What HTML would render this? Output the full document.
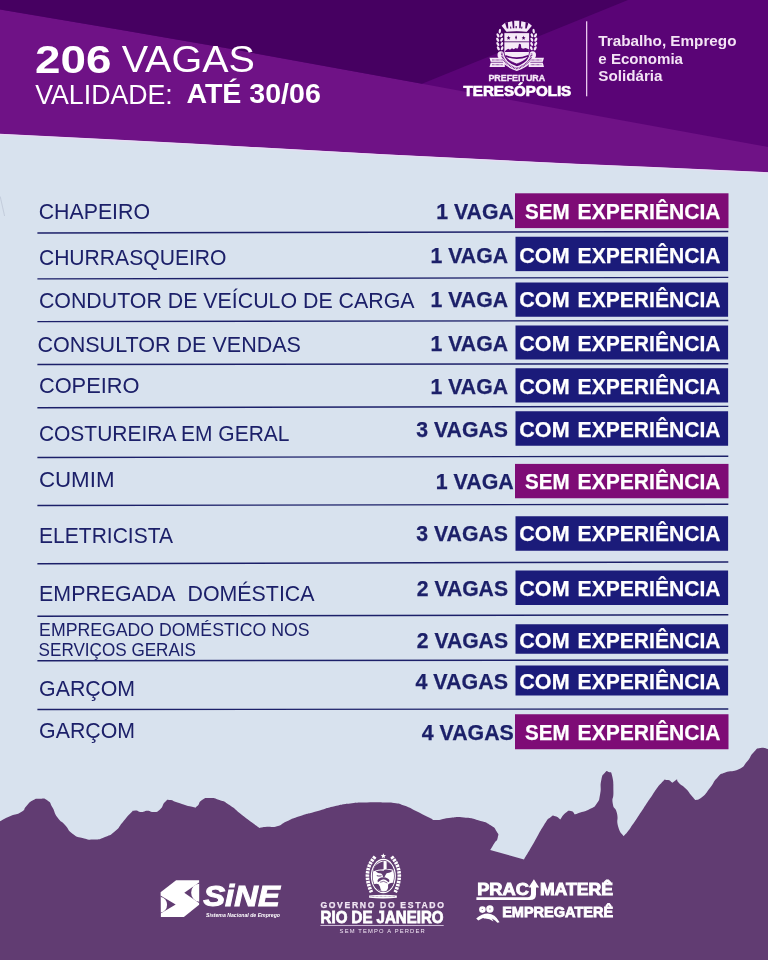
<!DOCTYPE html>
<html><head><meta charset="utf-8"><title>Vagas</title>
<style>
html,body{margin:0;padding:0;background:#d8e2ee;}
body{width:768px;height:960px;overflow:hidden;font-family:"Liberation Sans",sans-serif;}
svg{display:block;will-change:transform;font-family:"Liberation Sans",sans-serif;}
</style></head><body>
<svg width="768" height="960" viewBox="0 0 768 960">
<rect width="768" height="960" fill="#d8e2ee"/>
<!-- header -->
<polygon points="0,0 768,0 768,172.2 648,166.8 576,163.8 384,154.2 192,143.6 120,139.8 0,133.8" fill="#6f1286"/>
<polygon points="0,0 768,0 768,146.9 576,112 422,83.75 230,48.75 120,29.7 0,9.4" fill="#5a0476"/>
<polygon points="0,0 628,0 422,83.75 230,48.75 120,29.7 0,9.4" fill="#460061"/>
<polyline id="fringe" points="0,134.5 120,140.5 192,144.3 384,154.9 576,164.5 648,167.5 768,172.9" fill="none" stroke="#ecd9f6" stroke-width="1"/>
<text x="35.1" y="72.6" font-size="39" font-weight="bold" fill="#fff" textLength="76.4" lengthAdjust="spacingAndGlyphs">206</text>
<text x="121.7" y="72.4" font-size="37.6" fill="#fff" textLength="133.2" lengthAdjust="spacingAndGlyphs">VAGAS</text>
<text x="35.2" y="103.5" font-size="27.4" fill="#fff" textLength="137.6" lengthAdjust="spacingAndGlyphs">VALIDADE:</text>
<text x="186.4" y="103.3" font-size="27.4" font-weight="bold" fill="#fff" textLength="134.4" lengthAdjust="spacingAndGlyphs">ATÉ 30/06</text>
<rect x="586" y="21.3" width="1.3" height="75" fill="#e9c8ee"/>
<text x="598.3" y="46.25" font-size="14" font-weight="bold" fill="#f3e3f5" textLength="138.2" lengthAdjust="spacingAndGlyphs">Trabalho, Emprego</text>
<text x="598.3" y="63.6" font-size="14" font-weight="bold" fill="#f3e3f5" textLength="84.7" lengthAdjust="spacingAndGlyphs">e Economia</text>
<text x="598.3" y="81" font-size="14" font-weight="bold" fill="#f3e3f5" textLength="64.2" lengthAdjust="spacingAndGlyphs">Solidária</text>
<text x="488.4" y="80.8" font-size="8.4" font-weight="bold" fill="#f6e9f8" textLength="56.8" lengthAdjust="spacingAndGlyphs" stroke="#f6e9f8" stroke-width="0.3">PREFEITURA</text>
<text x="463.6" y="96.4" font-size="14.8" font-weight="bold" fill="#fff" textLength="107.6" lengthAdjust="spacingAndGlyphs" stroke="#fff" stroke-width="0.7">TERESÓPOLIS</text>

<path id="faintmark" d="M0.2,196.5 L4.6,216" stroke="#aeb6c8" stroke-width="0.9" opacity="0.55" fill="none"/>
<!-- Teresopolis crest -->
<defs>
<mask id="crestm" maskUnits="userSpaceOnUse" x="0" y="0" width="768" height="672">
 <g fill="#fff" stroke="none">
  <!-- crown -->
  <path d="M272,192 L211,116 L250,84 L288,76 L336,64 L362,56 L424,56 L450,64 L500,76 L536,84 L575,116 L512,192 Q392,172 272,192 Z"/>
  <!-- wreath left -->
  <g>
   <ellipse cx="190" cy="182" rx="14" ry="28" transform="rotate(8 190 182)"/>
   <ellipse cx="168" cy="232" rx="15" ry="27" transform="rotate(-28 168 232)"/>
   <ellipse cx="210" cy="232" rx="14" ry="25" transform="rotate(28 210 232)"/>
   <ellipse cx="164" cy="284" rx="15" ry="27" transform="rotate(-28 164 284)"/>
   <ellipse cx="212" cy="284" rx="14" ry="25" transform="rotate(28 212 284)"/>
   <ellipse cx="166" cy="336" rx="15" ry="27" transform="rotate(-28 166 336)"/>
   <ellipse cx="214" cy="336" rx="14" ry="25" transform="rotate(28 214 336)"/>
   <ellipse cx="172" cy="388" rx="15" ry="27" transform="rotate(-28 172 388)"/>
   <ellipse cx="218" cy="388" rx="14" ry="25" transform="rotate(28 218 388)"/>
   <ellipse cx="202" cy="468" rx="40" ry="44"/>
  </g>
  <g transform="translate(786,0) scale(-1,1)">
   <ellipse cx="190" cy="182" rx="14" ry="28" transform="rotate(8 190 182)"/>
   <ellipse cx="168" cy="232" rx="15" ry="27" transform="rotate(-28 168 232)"/>
   <ellipse cx="210" cy="232" rx="14" ry="25" transform="rotate(28 210 232)"/>
   <ellipse cx="164" cy="284" rx="15" ry="27" transform="rotate(-28 164 284)"/>
   <ellipse cx="212" cy="284" rx="14" ry="25" transform="rotate(28 212 284)"/>
   <ellipse cx="166" cy="336" rx="15" ry="27" transform="rotate(-28 166 336)"/>
   <ellipse cx="214" cy="336" rx="14" ry="25" transform="rotate(28 214 336)"/>
   <ellipse cx="172" cy="388" rx="15" ry="27" transform="rotate(-28 172 388)"/>
   <ellipse cx="218" cy="388" rx="14" ry="25" transform="rotate(28 218 388)"/>
   <ellipse cx="202" cy="468" rx="40" ry="44"/>
  </g>
  <!-- ribbon -->
  <path d="M66,500 H250 V612 H66 L82,556 Z"/>
  <path d="M720,500 H536 V612 H720 L704,556 Z"/>
 </g>
 <path d="M214,440 C214,540 300,600 393,632 C486,600 572,540 572,440" fill="none" stroke="#fff" stroke-width="52"/>
 <path d="M214,440 C214,540 300,600 393,632 C486,600 572,540 572,440" fill="none" stroke="#000" stroke-width="22" stroke-dasharray="9 9"/>
 <!-- shield -->
 <path d="M240,200 H546 V430 C546,500 480,545 393,576 C306,545 240,500 240,430 Z" fill="#fff" stroke="#000" stroke-width="9"/>
 <g fill="#000" stroke="none">
  <!-- crown slits -->
  <path d="M252,80 L286,72 L292,150 L274,150 Z M338,60 L362,52 L364,148 L346,148 Z M424,52 L448,60 L440,148 L422,148 Z M500,72 L534,80 L512,150 L494,150 Z"/>
  <path d="M312,128 l12,-3 l5,26 l-12,3z M379,120 h14 v28 h-14z M450,125 l12,3 l-5,26 l-12,-3z"/>
  <!-- shield details -->
  <rect x="240" y="305" width="306" height="10"/>
  <path d="M295,238 l7,16 17,2 -13,12 3,17 -14,-9 -14,9 3,-17 -13,-12 17,-2z"/>
  <path d="M385,230 l11,28 -11,28 -11,-28z"/>
  <path d="M475,238 l7,16 17,2 -13,12 3,17 -14,-9 -14,9 3,-17 -13,-12 17,-2z"/>
  <path d="M248,432 L262,410 L290,394 L312,404 L336,388 L356,398 L380,384 L400,392 L412,374 L420,334 L442,338 L448,384 L470,394 L500,384 L538,400 L538,432 Z"/>
  <path d="M258,468 Q393,522 528,468 L528,488 Q393,544 258,488 Z"/>
 </g>
 <g stroke="#000" fill="none">
  <path d="M70,556 H230 M556,556 H716" stroke-width="8"/>
  <path d="M98,528 H224 M98,585 H224 M562,528 H688 M562,585 H688" stroke-width="12" stroke-dasharray="8 7"/>
  <path d="M240,195 H546" stroke-width="7"/>
 </g>
</mask>
</defs>
<g transform="translate(484,16) scale(0.083333)">
<rect x="0" y="0" width="768" height="672" fill="#f6e9f8" mask="url(#crestm)"/>
</g>


<line x1="37.4" y1="233.0" x2="728.3" y2="231.5" stroke="#1c2069" stroke-width="1.4"/>
<line x1="37.4" y1="278.9" x2="728.3" y2="277.4" stroke="#1c2069" stroke-width="1.4"/>
<line x1="37.4" y1="321.6" x2="728.3" y2="320.5" stroke="#1c2069" stroke-width="1.4"/>
<line x1="37.4" y1="364.5" x2="728.3" y2="363.7" stroke="#1c2069" stroke-width="1.4"/>
<line x1="37.4" y1="407.7" x2="728.3" y2="406.4" stroke="#1c2069" stroke-width="1.4"/>
<line x1="37.4" y1="457.5" x2="728.3" y2="456.25" stroke="#1c2069" stroke-width="1.4"/>
<line x1="37.4" y1="505.5" x2="728.3" y2="504.25" stroke="#1c2069" stroke-width="1.4"/>
<line x1="37.4" y1="563.75" x2="728.3" y2="562" stroke="#1c2069" stroke-width="1.4"/>
<line x1="37.4" y1="616.25" x2="728.3" y2="614.7" stroke="#1c2069" stroke-width="1.4"/>
<line x1="37.4" y1="660.75" x2="728.3" y2="660" stroke="#1c2069" stroke-width="1.4"/>
<line x1="37.4" y1="709.5" x2="728.3" y2="709" stroke="#1c2069" stroke-width="1.4"/>
<text x="38.7" y="219.3" font-size="22.2" font-weight="normal" fill="#1c2069" textLength="111.3" lengthAdjust="spacingAndGlyphs">CHAPEIRO</text>
<text x="436.25" y="218.6" font-size="22.2" font-weight="bold" fill="#1c2069" textLength="77.5" lengthAdjust="spacingAndGlyphs" stroke="#1c2069" stroke-width="0.25">1 VAGA</text>
<rect x="515" y="193.3" width="213.5" height="34.80" fill="#7e0c76"/>
<text x="525" y="218.6" font-size="22.2" font-weight="bold" fill="#fff" textLength="44.6" lengthAdjust="spacingAndGlyphs" stroke="#fff" stroke-width="0.25">SEM</text>
<text x="577.6" y="218.6" font-size="22.2" font-weight="bold" fill="#fff" textLength="143.0" lengthAdjust="spacingAndGlyphs" stroke="#fff" stroke-width="0.25">EXPERIÊNCIA</text>
<text x="38.9" y="265.4" font-size="22.2" font-weight="normal" fill="#1c2069" textLength="187.6" lengthAdjust="spacingAndGlyphs">CHURRASQUEIRO</text>
<text x="430.5" y="262.5" font-size="22.2" font-weight="bold" fill="#1c2069" textLength="77.5" lengthAdjust="spacingAndGlyphs" stroke="#1c2069" stroke-width="0.25">1 VAGA</text>
<rect x="515.5" y="236.75" width="212.6" height="34.40" fill="#1b1b7a"/>
<text x="519.3" y="262.5" font-size="22.2" font-weight="bold" fill="#fff" textLength="50.3" lengthAdjust="spacingAndGlyphs" stroke="#fff" stroke-width="0.25">COM</text>
<text x="577.6" y="262.5" font-size="22.2" font-weight="bold" fill="#fff" textLength="143.0" lengthAdjust="spacingAndGlyphs" stroke="#fff" stroke-width="0.25">EXPERIÊNCIA</text>
<text x="38.9" y="308.25" font-size="22.2" font-weight="normal" fill="#1c2069" textLength="375.6" lengthAdjust="spacingAndGlyphs">CONDUTOR DE VEÍCULO DE CARGA</text>
<text x="430.5" y="306.75" font-size="22.2" font-weight="bold" fill="#1c2069" textLength="77.5" lengthAdjust="spacingAndGlyphs" stroke="#1c2069" stroke-width="0.25">1 VAGA</text>
<rect x="515.5" y="282.5" width="212.6" height="34.25" fill="#1b1b7a"/>
<text x="519.3" y="306.75" font-size="22.2" font-weight="bold" fill="#fff" textLength="50.3" lengthAdjust="spacingAndGlyphs" stroke="#fff" stroke-width="0.25">COM</text>
<text x="577.6" y="306.75" font-size="22.2" font-weight="bold" fill="#fff" textLength="143.0" lengthAdjust="spacingAndGlyphs" stroke="#fff" stroke-width="0.25">EXPERIÊNCIA</text>
<text x="37.4" y="352" font-size="22.2" font-weight="normal" fill="#1c2069" textLength="263.6" lengthAdjust="spacingAndGlyphs">CONSULTOR DE VENDAS</text>
<text x="430.5" y="350.75" font-size="22.2" font-weight="bold" fill="#1c2069" textLength="77.5" lengthAdjust="spacingAndGlyphs" stroke="#1c2069" stroke-width="0.25">1 VAGA</text>
<rect x="515.5" y="325.5" width="212.6" height="34.00" fill="#1b1b7a"/>
<text x="519.3" y="350.75" font-size="22.2" font-weight="bold" fill="#fff" textLength="50.3" lengthAdjust="spacingAndGlyphs" stroke="#fff" stroke-width="0.25">COM</text>
<text x="577.6" y="350.75" font-size="22.2" font-weight="bold" fill="#fff" textLength="143.0" lengthAdjust="spacingAndGlyphs" stroke="#fff" stroke-width="0.25">EXPERIÊNCIA</text>
<text x="38.9" y="393" font-size="22.2" font-weight="normal" fill="#1c2069" textLength="100.6" lengthAdjust="spacingAndGlyphs">COPEIRO</text>
<text x="430.5" y="394.25" font-size="22.2" font-weight="bold" fill="#1c2069" textLength="77.5" lengthAdjust="spacingAndGlyphs" stroke="#1c2069" stroke-width="0.25">1 VAGA</text>
<rect x="515.5" y="368.25" width="212.6" height="34.25" fill="#1b1b7a"/>
<text x="519.3" y="394.25" font-size="22.2" font-weight="bold" fill="#fff" textLength="50.3" lengthAdjust="spacingAndGlyphs" stroke="#fff" stroke-width="0.25">COM</text>
<text x="577.6" y="394.25" font-size="22.2" font-weight="bold" fill="#fff" textLength="143.0" lengthAdjust="spacingAndGlyphs" stroke="#fff" stroke-width="0.25">EXPERIÊNCIA</text>
<text x="38.9" y="440.5" font-size="22.2" font-weight="normal" fill="#1c2069" textLength="250.6" lengthAdjust="spacingAndGlyphs">COSTUREIRA EM GERAL</text>
<text x="416.25" y="437" font-size="22.2" font-weight="bold" fill="#1c2069" textLength="91.75" lengthAdjust="spacingAndGlyphs" stroke="#1c2069" stroke-width="0.25">3 VAGAS</text>
<rect x="515.5" y="411.25" width="212.6" height="34.50" fill="#1b1b7a"/>
<text x="519.3" y="437" font-size="22.2" font-weight="bold" fill="#fff" textLength="50.3" lengthAdjust="spacingAndGlyphs" stroke="#fff" stroke-width="0.25">COM</text>
<text x="577.6" y="437" font-size="22.2" font-weight="bold" fill="#fff" textLength="143.0" lengthAdjust="spacingAndGlyphs" stroke="#fff" stroke-width="0.25">EXPERIÊNCIA</text>
<text x="38.9" y="486.75" font-size="22.2" font-weight="normal" fill="#1c2069" textLength="75.6" lengthAdjust="spacingAndGlyphs">CUMIM</text>
<text x="435.75" y="488.75" font-size="22.2" font-weight="bold" fill="#1c2069" textLength="78.0" lengthAdjust="spacingAndGlyphs" stroke="#1c2069" stroke-width="0.25">1 VAGA</text>
<rect x="515" y="463.9" width="213.5" height="34.35" fill="#7e0c76"/>
<text x="525" y="488.75" font-size="22.2" font-weight="bold" fill="#fff" textLength="44.6" lengthAdjust="spacingAndGlyphs" stroke="#fff" stroke-width="0.25">SEM</text>
<text x="577.6" y="488.75" font-size="22.2" font-weight="bold" fill="#fff" textLength="143.0" lengthAdjust="spacingAndGlyphs" stroke="#fff" stroke-width="0.25">EXPERIÊNCIA</text>
<text x="39.1" y="542.5" font-size="22.2" font-weight="normal" fill="#1c2069" textLength="133.9" lengthAdjust="spacingAndGlyphs">ELETRICISTA</text>
<text x="416.25" y="541.25" font-size="22.2" font-weight="bold" fill="#1c2069" textLength="91.75" lengthAdjust="spacingAndGlyphs" stroke="#1c2069" stroke-width="0.25">3 VAGAS</text>
<rect x="515.5" y="516.25" width="212.6" height="34.50" fill="#1b1b7a"/>
<text x="519.3" y="541.25" font-size="22.2" font-weight="bold" fill="#fff" textLength="50.3" lengthAdjust="spacingAndGlyphs" stroke="#fff" stroke-width="0.25">COM</text>
<text x="577.6" y="541.25" font-size="22.2" font-weight="bold" fill="#fff" textLength="143.0" lengthAdjust="spacingAndGlyphs" stroke="#fff" stroke-width="0.25">EXPERIÊNCIA</text>
<text x="39.1" y="600.5" font-size="22.2" font-weight="normal" fill="#1c2069" textLength="275.4" lengthAdjust="spacingAndGlyphs">EMPREGADA&#160;&#160;DOMÉSTICA</text>
<text x="416.75" y="595.75" font-size="22.2" font-weight="bold" fill="#1c2069" textLength="91.25" lengthAdjust="spacingAndGlyphs" stroke="#1c2069" stroke-width="0.25">2 VAGAS</text>
<rect x="515.5" y="570.5" width="212.6" height="34.50" fill="#1b1b7a"/>
<text x="519.3" y="595.75" font-size="22.2" font-weight="bold" fill="#fff" textLength="50.3" lengthAdjust="spacingAndGlyphs" stroke="#fff" stroke-width="0.25">COM</text>
<text x="577.6" y="595.75" font-size="22.2" font-weight="bold" fill="#fff" textLength="143.0" lengthAdjust="spacingAndGlyphs" stroke="#fff" stroke-width="0.25">EXPERIÊNCIA</text>
<text x="39.1" y="636.25" font-size="18.2" font-weight="normal" fill="#1c2069" textLength="270.4" lengthAdjust="spacingAndGlyphs">EMPREGADO DOMÉSTICO NOS</text>
<text x="38.6" y="656.25" font-size="18.2" font-weight="normal" fill="#1c2069" textLength="157.4" lengthAdjust="spacingAndGlyphs">SERVIÇOS GERAIS</text>
<text x="416.75" y="647.5" font-size="22.2" font-weight="bold" fill="#1c2069" textLength="91.25" lengthAdjust="spacingAndGlyphs" stroke="#1c2069" stroke-width="0.25">2 VAGAS</text>
<rect x="515.5" y="624.25" width="212.6" height="29.50" fill="#1b1b7a"/>
<text x="519.3" y="647.5" font-size="22.2" font-weight="bold" fill="#fff" textLength="50.3" lengthAdjust="spacingAndGlyphs" stroke="#fff" stroke-width="0.25">COM</text>
<text x="577.6" y="647.5" font-size="22.2" font-weight="bold" fill="#fff" textLength="143.0" lengthAdjust="spacingAndGlyphs" stroke="#fff" stroke-width="0.25">EXPERIÊNCIA</text>
<text x="39.1" y="695.75" font-size="22.2" font-weight="normal" fill="#1c2069" textLength="95.9" lengthAdjust="spacingAndGlyphs">GARÇOM</text>
<text x="415.5" y="688.75" font-size="22.2" font-weight="bold" fill="#1c2069" textLength="92.5" lengthAdjust="spacingAndGlyphs" stroke="#1c2069" stroke-width="0.25">4 VAGAS</text>
<rect x="515.5" y="665.5" width="212.6" height="30.00" fill="#1b1b7a"/>
<text x="519.3" y="688.75" font-size="22.2" font-weight="bold" fill="#fff" textLength="50.3" lengthAdjust="spacingAndGlyphs" stroke="#fff" stroke-width="0.25">COM</text>
<text x="577.6" y="688.75" font-size="22.2" font-weight="bold" fill="#fff" textLength="143.0" lengthAdjust="spacingAndGlyphs" stroke="#fff" stroke-width="0.25">EXPERIÊNCIA</text>
<text x="39.1" y="738.25" font-size="22.2" font-weight="normal" fill="#1c2069" textLength="95.9" lengthAdjust="spacingAndGlyphs">GARÇOM</text>
<text x="421.75" y="739.5" font-size="22.2" font-weight="bold" fill="#1c2069" textLength="92.0" lengthAdjust="spacingAndGlyphs" stroke="#1c2069" stroke-width="0.25">4 VAGAS</text>
<rect x="515" y="714.25" width="213.5" height="35.00" fill="#7e0c76"/>
<text x="525" y="739.5" font-size="22.2" font-weight="bold" fill="#fff" textLength="44.6" lengthAdjust="spacingAndGlyphs" stroke="#fff" stroke-width="0.25">SEM</text>
<text x="577.6" y="739.5" font-size="22.2" font-weight="bold" fill="#fff" textLength="143.0" lengthAdjust="spacingAndGlyphs" stroke="#fff" stroke-width="0.25">EXPERIÊNCIA</text>
<!-- footer -->
<path d="M0,821.25 C3.3,819.6 2.9,819.3 10,816.25 C17.1,813.2 15.8,815.3 21.25,812 C26.7,808.7 22.5,810.1 26.25,806.25 C30.0,802.4 27.9,803.0 32.5,800.5 C37.1,798.0 35.0,798.8 40,798.75 C45.0,798.8 43.3,797.6 47.5,800.5 C51.7,803.4 49.2,801.8 52.5,807.5 C55.8,813.2 53.3,811.7 57.5,817.5 C61.7,823.3 60.0,819.6 65,825 C70.0,830.4 66.7,829.4 72.5,833.75 C78.3,838.1 75.4,836.1 82.5,838 C89.6,839.9 86.2,839.8 93.75,839.5 C101.2,839.2 97.9,839.8 105,837 C112.1,834.2 109.2,836.1 115,831.25 C120.8,826.4 117.5,828.3 122.5,822.5 C127.5,816.7 125.8,817.8 130,813.75 C134.2,809.8 131.2,811.1 135,810.5 C138.8,809.9 137.1,811.9 141.25,812 C145.4,812.1 143.3,810.8 147.5,810.75 C151.7,810.8 149.6,812.4 153.75,812 C157.9,811.6 156.2,812.8 160,809.5 C163.8,806.2 161.7,805.2 165,802 C168.3,798.8 165.8,799.8 170,800 C174.2,800.2 170.2,800.2 177.5,802.5 C184.8,804.8 185.5,805.5 192,806.75 C198.5,808.0 193.7,808.5 197,806.25 C200.3,804.0 197.8,802.8 202,800 C206.2,797.2 203.7,798.0 209.5,798 C215.3,798.0 212.8,797.7 219.5,800 C226.2,802.3 222.0,800.0 229.5,805 C237.0,810.0 234.5,809.2 242,815 C249.5,820.8 246.2,818.2 252,822.5 C257.8,826.8 257.0,826.2 259.5,828 C262.0,827.6 261.2,827.3 267,826.75 C272.8,826.2 270.3,828.1 277,826.25 C283.7,824.4 279.5,824.6 287,821.25 C294.5,817.9 289.5,819.6 299.5,816.25 C309.5,812.9 305.3,814.6 317,811.25 C328.7,807.9 322.8,808.9 334.5,806.25 C346.2,803.6 341.2,804.5 352,803.25 C362.8,802.0 356.3,802.8 367,802.5 C377.7,802.2 375.0,802.3 384,802.5 C393.0,802.7 387.3,802.0 394,803 C400.7,804.0 396.5,802.8 404,805.5 C411.5,808.2 408.2,807.2 416.5,811.25 C424.8,815.2 422.3,814.6 429,817.5 C435.7,820.4 429.8,819.8 436.5,820 C443.2,820.2 439.8,818.8 449,818 C458.2,817.2 454.0,816.7 464,817.5 C474.0,818.3 470.2,818.0 479,820.5 C487.8,823.0 484.4,821.4 490.25,825 C496.1,828.6 494.0,827.1 496.5,831.25 C499.0,835.4 498.6,833.3 497.75,837.5 C496.9,841.7 496.5,839.6 494,843.75 C491.5,847.9 491.5,847.9 490.25,850 C501.5,853.2 512.8,856.3 524,859.5 C527.3,853.8 527.3,854.0 534,842.5 C540.7,831.0 538.6,833.3 544,825 C549.4,816.7 546.5,820.4 550.25,817.5 C554.0,814.6 551.9,815.6 555.25,816.25 C558.6,816.9 558.6,818.4 560.25,819.5 C562.0,817.4 561.9,815.9 565.4,813.1 C568.9,810.3 567.6,810.5 570.8,811 C574.0,811.5 573.5,813.3 574.9,814.5 C576.7,813.9 575.3,814.4 580.3,812.6 C585.3,810.8 584.4,812.0 589.8,809 C595.2,806.0 593.2,808.6 596.6,803.7 C600.0,798.8 598.6,801.9 600.1,794.2 C601.6,786.5 599.7,787.7 601.2,780.6 C602.7,773.5 602.2,775.9 604.7,773 C607.2,770.1 606.2,770.8 608.75,772 C611.3,773.2 610.8,770.1 612.3,776.6 C613.8,783.1 613.2,782.5 613.4,791.5 C613.6,800.5 611.6,796.5 612.8,803.7 C614.0,810.9 615.1,805.4 616.9,813.1 C618.7,820.8 616.0,819.0 618.2,826.7 C620.4,834.4 621.8,833.0 623.6,836.2 C625.9,833.5 624.5,836.1 630.4,828 C636.3,819.9 634.0,822.6 641.25,811.8 C648.5,801.0 645.3,805.2 652.1,795.5 C658.9,785.8 656.6,787.9 661.6,782.8 C666.6,777.7 663.4,780.1 667,780.1 C670.6,780.1 670.6,781.9 672.4,782.8 C673.9,781.6 675.5,780.5 677,779.3 C677.7,780.6 676.2,780.1 679.2,783.3 C682.2,786.4 681.8,784.7 685.9,788.75 C690.0,792.8 688.2,791.7 691.4,795.5 C694.6,799.3 694.1,798.6 695.4,800.1 C697.7,799.0 697.2,801.1 702.2,796.9 C707.2,792.7 705.3,793.7 710.3,787.4 C715.3,781.1 712.1,782.9 717.1,777.9 C722.1,772.9 718.0,775.4 725.2,772.5 C732.4,769.6 731.5,772.9 738.75,769.25 C746.0,765.6 741.9,767.4 746.9,761.7 C751.9,756.0 749.2,756.7 753.7,752.2 C758.2,747.7 755.6,749.2 760.4,748.1 C765.2,747.0 765.5,748.7 768,749 L768,960 L0,960 Z" fill="#613c72"/>

<!-- SINE -->
<g fill="#fff">
<path d="M160.6,892.3 L176.1,880.2 L199.1,880.2 L199.1,904.8 L183.9,916.9 L160.9,916.9 Z"/>
<path d="M199.4,882.2 L184.3,892.7 L199.4,903.25 Z" fill="#613c72"/><path d="M199.15,883.7 A8,9 0 0 0 199.15,901.7 Z"/>
<path d="M160.5,895.4 L175.7,904.4 L160.5,913.4 Z" fill="#613c72"/><path d="M160.85,896.9 A7,7.9 0 0 1 160.85,912.6 Z"/>
<text x="203.2" y="906.2" font-size="30" font-weight="bold" font-style="italic" textLength="76.6" lengthAdjust="spacingAndGlyphs" stroke="#fff" stroke-width="1">SiNE</text>
<text x="206" y="917.3" font-size="5.6" font-weight="bold" font-style="italic" textLength="74" lengthAdjust="spacingAndGlyphs">Sistema Nacional de Emprego</text>
</g>
<!-- RJ -->
<g fill="#fff">
<g transform="translate(356,848) scale(0.072917)">
 <ellipse cx="375" cy="385" rx="172" ry="236" fill="#fff"/>
 <ellipse cx="375" cy="385" rx="156" ry="220" fill="#613c72"/>
 <ellipse cx="375" cy="385" rx="146" ry="210" fill="#fff"/>
 <g fill="#613c72">
  <path d="M240,300 Q250,215 378,180 L378,290 Q300,290 240,320 Z"/>
  <path d="M420,185 Q500,220 515,300 Q470,285 420,290 Z"/>
  <path d="M268,318 Q330,300 378,312 Q390,290 420,296 Q470,300 505,312 Q470,345 420,345 Q400,370 390,400 L372,400 Q365,360 345,350 Q300,350 268,318 Z"/>
  <path d="M285,370 Q320,385 350,372 L352,384 Q315,398 285,384 Z"/>
  <path d="M236,500 Q300,470 330,520 Q330,560 350,590 Q280,570 236,500 Z"/>
  <path d="M520,480 Q470,470 440,500 Q450,550 420,590 Q490,560 520,480 Z"/>
  <path d="M300,470 Q375,400 450,470 Q470,440 440,420 Q375,385 310,420 Q285,440 300,470 Z"/>
 </g>
 <circle cx="378" cy="495" r="62" fill="#fff"/>
 <path d="M330,470 Q380,440 430,480" stroke="#613c72" stroke-width="10" fill="none"/>
 <path d="M375,72 l10,24 26,2 -20,17 6,26 -22,-14 -22,14 6,-26 -20,-17 26,-2z"/>
 <path d="M262,118 Q80,320 212,606" fill="none" stroke="#fff" stroke-width="50" stroke-dasharray="33 12"/>
 <path d="M488,118 Q670,320 538,606" fill="none" stroke="#fff" stroke-width="50" stroke-dasharray="33 12"/>
 <path d="M180,652 Q375,628 560,652 L560,682 Q375,700 180,682 Z"/>
 <path d="M200,667 Q375,660 540,667" stroke="#613c72" stroke-width="8" stroke-dasharray="10 8" fill="none"/>
</g>
<text x="320.4" y="908.4" font-size="8.6" font-weight="bold" textLength="123.5" lengthAdjust="spacing" fill="#f1e6f4" stroke="#f1e6f4" stroke-width="0.25">GOVERNO DO ESTADO</text>
<text x="320.6" y="922.9" font-size="16.4" font-weight="bold" textLength="122.9" lengthAdjust="spacingAndGlyphs" stroke="#fff" stroke-width="0.8">RIO DE JANEIRO</text>
<rect x="320.4" y="925" width="123.3" height="0.8" fill="#e8d8ee"/>
<text x="339.6" y="932.8" font-size="5.8" textLength="85" lengthAdjust="spacing" fill="#f1e6f4">SEM TEMPO A PERDER</text>
</g>
<!-- PRACIMATERE -->
<g fill="#fff">
<text x="477.2" y="894.9" font-size="16.2" font-weight="bold" textLength="51.6" lengthAdjust="spacingAndGlyphs" stroke="#fff" stroke-width="0.9">PRAC</text>
<text x="539.9" y="894.9" font-size="16.2" font-weight="bold" textLength="73.2" lengthAdjust="spacingAndGlyphs" stroke="#fff" stroke-width="0.9">MATERÊ</text>
<path d="M476.4,897.2 H527.5 Q531,897.2 531,893.5 V887.4 H528.6 L533.9,879.3 L539.2,887.4 H536 V894.5 Q536,900.1 530,900.1 H476.4 Z"/>
<text x="502.2" y="917.1" font-size="14.4" font-weight="bold" textLength="110.9" lengthAdjust="spacingAndGlyphs" stroke="#fff" stroke-width="0.8">EMPREGATERÊ</text>
<circle cx="482.4" cy="909.6" r="3.3"/>
<circle cx="489.9" cy="909" r="3.7"/>
<circle cx="482.3" cy="909.5" r="0.6" fill="#7d5c8c"/>
<circle cx="489.9" cy="908.9" r="0.7" fill="#7d5c8c"/>
<path d="M476.2,918.4 Q482,913.6 487.8,913.6 Q495,914 499.6,922.2 L497.4,922.8 Q493,918 487.4,917.6 Q482.5,917.4 478.3,920.6 Z"/>
<path d="M483.5,916 Q487,915.2 491.5,917.8 L493.5,921.5 Q489,918 483.8,918.6 Z"/>
</g>


</svg>
</body></html>
